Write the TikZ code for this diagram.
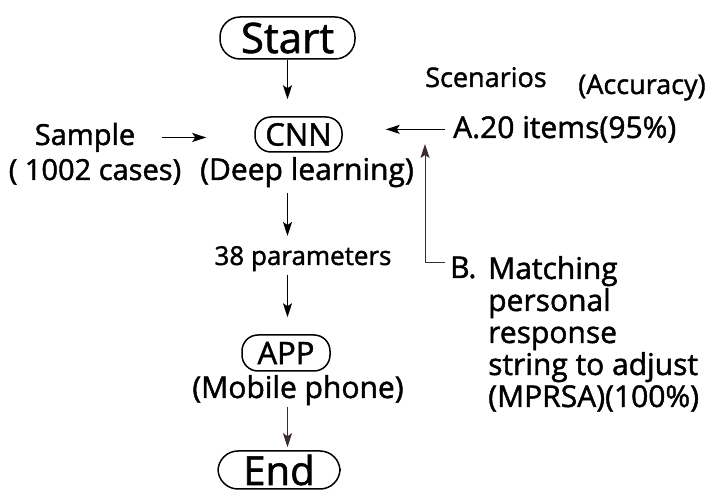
\documentclass[tikz,border=0pt]{standalone}
\usepackage{fontspec}
\setmainfont{Open Sans}[FakeBold=1.5]
\usetikzlibrary{arrows.meta}
\definecolor{Umber}{HTML}{3A2C2C}

\begin{document}
\begin{tikzpicture}[
    x=1pt, y=-1pt,
    pill/.style={draw, line width=1.5pt, rounded corners=16pt, minimum width=88pt, minimum height=35pt, inner sep=0pt, font=\fontsize{31}{33}\selectfont},
    bigpill/.style={pill, rounded corners=20pt, minimum height=42pt, font=\fontsize{42}{44}\selectfont},
    txt/.style={inner sep=0pt, anchor=base, font=\fontsize{30}{32}\selectfont},
    small/.style={txt, font=\fontsize{27}{29}\selectfont},
    arr/.style={-{Stealth[length=14pt, width=9pt, inset=3pt]}, line width=1.5pt},
    thinarr/.style={-{Stealth[length=14pt, width=9pt, inset=3pt]}, line width=1pt, Umber}
]
\useasboundingbox (0,0) rectangle (713,494);

% Main flow
\node[bigpill, minimum width=135pt] (start) at (287.5,38) {Start};
\node[pill, minimum width=87pt] (cnn) at (298.5,134.5) {CNN};
\node[txt] (deep) at (307,180) {(Deep learning)};
\node[txt, font=\fontsize{26}{28}\selectfont] (params) at (303,265) {38 parameters};
\node[pill, minimum height=36pt] (app) at (286,353) {APP};
\node[txt] (mobile) at (298,398) {(Mobile phone)};
\node[bigpill, minimum width=122pt, minimum height=38pt, font=\fontsize{40}{42}\selectfont] (finish) at (279,470) {End};

% Input
\node[txt, font=\fontsize{29}{31}\selectfont] (sample) at (85,145) {Sample};
\node[txt, font=\fontsize{29}{31}\selectfont] (cases) at (95,180) {( 1002 cases)};

% Scenarios
\node[small] (scen) at (486,87) {Scenarios};
\node[small] (acc) at (642,94) {(Accuracy)};
\node[txt, anchor=base west] (labA) at (453,138) {A.20 items(95\%)};
\node[txt, anchor=base west] (labB) at (450,278) {B.};
\node[txt, anchor=north west, align=left] (textB) at (488,256) {Matching\\personal\\response\\string to adjust\\(MPRSA)(100\%)};
\coordinate (turn) at (425,144);

% Arrows
\draw[arr, shorten >=17pt] (start.south) -- (start.south |- cnn.north);
\draw[arr, shorten <=6pt, shorten >=10pt] (deep.south -| start.south) -- (params.north -| start.south);
\draw[arr, shorten <=4pt, shorten >=17pt] (params.south -| start.south) -- (app.north -| start.south);
\draw[thinarr, shorten <=2pt, shorten >=3pt] (mobile.south -| start.south) -- (finish.north -| start.south);
\draw[arr, shorten <=27pt, shorten >=48pt] (sample.east) -- (cnn.west |- sample.east);
\draw[thinarr, black, shorten <=8pt, shorten >=43pt] (labA.west) -- (cnn.east |- labA.west);
\draw[thinarr, shorten <=5pt] ([yshift=5pt]labB.west) -| (turn);

\end{tikzpicture}
\end{document}
